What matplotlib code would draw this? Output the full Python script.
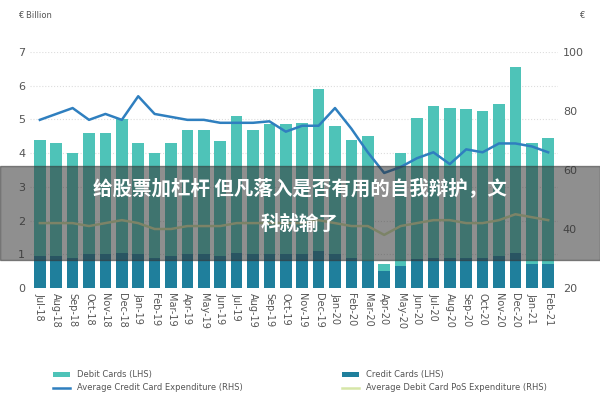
import matplotlib.pyplot as plt
from matplotlib.patches import Rectangle

months = ["Jul-18", "Aug-18", "Sep-18", "Oct-18", "Nov-18", "Dec-18", "Jan-19", "Feb-19",
          "Mar-19", "Apr-19", "May-19", "Jun-19", "Jul-19", "Aug-19", "Sep-19", "Oct-19",
          "Nov-19", "Dec-19", "Jan-20", "Feb-20", "Mar-20", "Apr-20", "May-20", "Jun-20",
          "Jul-20", "Aug-20", "Sep-20", "Oct-20", "Nov-20", "Dec-20", "Jan-21", "Feb-21"]
credit = [0.95, 0.95, 0.9, 1.0, 1.0, 1.05, 1.0, 0.9, 0.95, 1.0, 1.0, 0.95, 1.05, 1.0, 1.0, 1.0,
          1.0, 1.1, 1.0, 0.9, 0.8, 0.5, 0.65, 0.85, 0.9, 0.9, 0.9, 0.9, 0.95, 1.05, 0.7, 0.7]
total = [4.4, 4.3, 4.0, 4.6, 4.6, 5.0, 4.3, 4.0, 4.3, 4.7, 4.7, 4.35, 5.1, 4.7, 4.85, 4.85,
         4.9, 5.9, 4.8, 4.4, 4.5, 0.7, 4.0, 5.05, 5.4, 5.35, 5.3, 5.25, 5.45, 6.55, 4.3, 4.45]
debit = [t - c for t, c in zip(total, credit)]
credit_exp = [77, 79, 81, 77, 79, 77, 85, 79, 78, 77, 77, 76, 76, 76, 76.5, 73,
              75, 75, 81, 74, 66, 59, 61, 64, 66, 62, 67, 66, 69, 69, 68, 66]
debit_pos = [42, 42, 42, 41, 42, 43, 42, 40, 40, 41, 41, 41, 42, 42, 42, 42,
             42, 43, 42, 41, 41, 38, 41, 42, 43, 43, 42, 42, 43, 45, 44, 43]

fig, ax = plt.subplots(figsize=(6, 4), dpi=100)
fig.subplots_adjust(left=0.05, right=0.93, top=0.87, bottom=0.28)
x = range(len(months))
ax.bar(x, credit, width=0.7, color="#1f7f9c", label="Credit Cards (LHS)")
ax.bar(x, debit, width=0.7, bottom=credit, color="#4ec3b8", label="Debit Cards (LHS)")
ax.set_ylim(0, 7)
ax.set_xlim(-0.6, len(months) - 0.4)
ax.set_xticks(list(x))
ax.set_xticklabels(months, rotation=-90, fontsize=7, color="#555555")
ax.tick_params(axis="y", labelsize=8, colors="#555555", length=0)
ax.tick_params(axis="x", length=0)
ax.grid(axis="y", color="#dddddd", linestyle=":")
ax.set_axisbelow(True)
for s in ax.spines.values():
    s.set_visible(False)

ax2 = ax.twinx()
ax2.plot(x, credit_exp, color="#2f7fbf", lw=1.8, label="Average Credit Card Expenditure (RHS)")
ax2.plot(x, debit_pos, color="#d6e6a8", lw=1.8, label="Average Debit Card PoS Expenditure (RHS)")
ax2.set_ylim(20, 100)
ax2.set_yticks([20, 40, 60, 80, 100])
ax2.tick_params(axis="y", labelsize=8, colors="#555555", length=0)
for s in ax2.spines.values():
    s.set_visible(False)

fig.text(0.03, 0.955, "€ Billion", fontsize=6, color="#555555")
fig.text(0.965, 0.955, "€", fontsize=6, color="#555555")

h1, l1 = ax.get_legend_handles_labels()
h2, l2 = ax2.get_legend_handles_labels()
# column-major fill: row 1 = Debit, Credit; row 2 = avg credit, avg debit
handles = [h1[1], h2[0], h1[0], h2[1]]
labels = [l1[1], l2[0], l1[0], l2[1]]
fig.legend(handles, labels, loc="lower center", ncol=2, fontsize=6, frameon=False,
           bbox_to_anchor=(0.5, 0.0), columnspacing=12, labelcolor="#555555")

fig.patches.append(Rectangle((0, 0.35), 1, 0.235, transform=fig.transFigure,
                             color="#333333", alpha=0.55, zorder=10))
fig.text(0.5, 0.53, "给股票加杠杆 但凡落入是否有用的自我辩护，文", ha="center", va="center",
         fontsize=14, color="white", fontweight="bold", family="Noto Sans CJK SC", zorder=11)
fig.text(0.5, 0.44, "科就输了", ha="center", va="center",
         fontsize=14, color="white", fontweight="bold", family="Noto Sans CJK SC", zorder=11)

fig.savefig("out.png")
